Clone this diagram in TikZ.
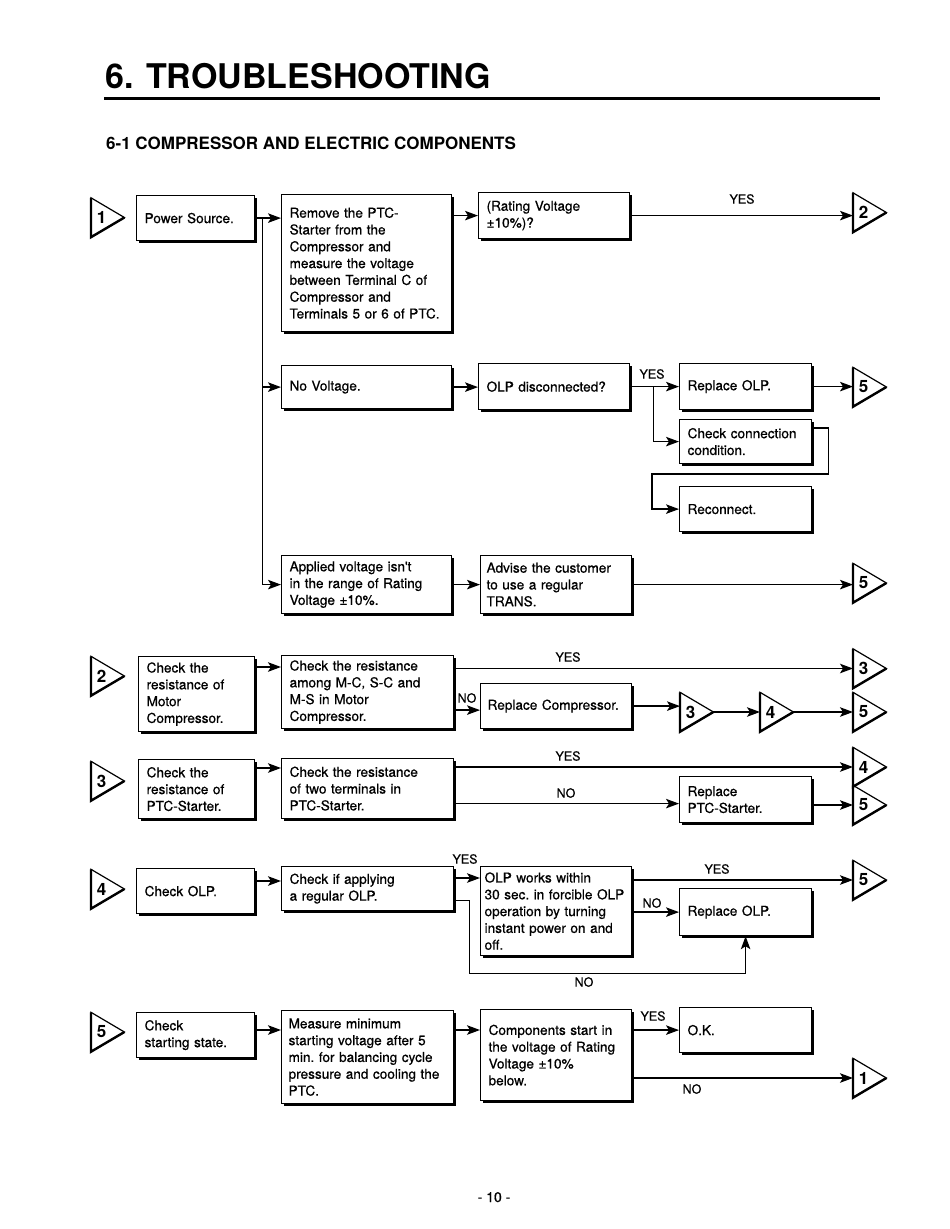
\documentclass[tikz,border=0pt]{standalone}
\usepackage{fontspec}
\setmainfont{TeX Gyre Heros}
\newfontfamily\boxfont[FakeBold=0.7]{TeX Gyre Heros}
\usetikzlibrary{arrows.meta,calc,shadows}
\tikzset{
  box/.style={draw, line width=1.2pt, fill=white,
    drop shadow={shadow xshift=2.2pt, shadow yshift=-2.2pt, opacity=1, fill=black},
    inner ysep=2pt, align=left, anchor=north west,
    font=\boxfont\fontsize{13.6}{16.8}\selectfont\frenchspacing},
  arr/.style={line width=1.4pt, -{Stealth[length=13pt,width=9.5pt,inset=3pt]}},
  lbl/.style={font=\boxfont\fontsize{12.5}{14}\selectfont, inner sep=0pt},
  trib/.style={minimum width=33pt, minimum height=39pt, inner sep=0pt, anchor=west},
  trinum/.style={font=\bfseries\fontsize{17}{17}\selectfont, inner sep=0pt},
}
\newcommand\bx[7][8]{%
  \pgfmathsetmacro\tw{#5-2*#1}%
  \node[box, inner xsep=#1pt, text width=\tw pt, minimum height=#6pt] (#2) at (#3,#4) {#7};}
\newcommand\tri[4]{%
  \node[trib] (#1) at (#2,#3) {};
  \draw[line width=1.2pt, line join=miter] (#1.north west) -- (#1.east) -- (#1.south west) -- cycle;
  \draw[line width=2.4pt] (#1.north west) -- (#1.south west) -- (#1.east);
  \node[trinum] (#1n) at ($(#1.west)+(10.5,0)$) {#4};}
\begin{document}
\begin{tikzpicture}[x=1pt,y=-1pt]
\useasboundingbox (0,0) rectangle (950,1229);
% heading
\node[anchor=base west, inner sep=0pt, font=\bfseries\fontsize{34}{36}\selectfont] (title) at (105,88) {6. TROUBLESHOOTING};
\draw[line width=3.5pt] (104,98.5) -- (880,98.5);
\node[anchor=base west, inner sep=0pt, font=\bfseries\fontsize{17}{20}\selectfont] (sub) at (106,149) {6-1 COMPRESSOR AND ELECTRIC COMPONENTS};
\node[anchor=base, inner sep=0pt, font=\boxfont\fontsize{14}{16}\selectfont] (page) at (494,1202) {- 10 -};

% ---------- chart 1 ----------
\tri{s1}{91}{217.5}{1}
\bx{ps}{136}{195}{118}{45}{Power Source.}
\bx{rm}{281}{194}{170}{137}{Remove the PTC-\\Starter from the\\Compressor and\\measure the voltage\\between Terminal C of\\Compressor and\\Terminals 5 or 6 of PTC.}
\bx{rv}{478}{192}{151}{46}{(Rating Voltage\\±10\%)?}
\tri{e2}{853}{212.5}{2}
\bx{nv}{281}{365}{170}{43}{No Voltage.}
\bx{od}{478}{363}{151}{46}{OLP disconnected?}
\bx{roa}{679}{363}{132}{46}{Replace OLP.}
\tri{e5a}{853}{387}{5}
\bx{cc}{679}{419}{132}{44}{Check connection\\condition.}
\bx{rc}{679}{486}{132}{45}{Reconnect.}
\bx{av}{281}{555}{170}{58}{Applied voltage isn't\\in the range of Rating\\Voltage ±10\%.}
\bx[6]{ad}{480}{555}{151}{58}{Advise the customer\\to use a regular\\TRANS.}
\tri{e5b}{853}{583}{5}

\draw[arr] (ps.east) -- (ps.east -| rm.west);
\coordinate (trunk) at ($(ps.east)+(7,0)$);
\draw[arr] (trunk) |- (nv.west);
\draw[arr] (trunk) |- (av.west);
\draw[arr] (rm.east |- rv.west) -- (rv.west);
\draw[arr] (rv.east) -- (rv.east -| e2.west);
\node[lbl] (y1) at (742,199) {YES};
\draw[arr] (nv.east) -- (nv.east -| od.west);
\coordinate (j1) at ($(od.east)+(23,0)$);
\draw[arr] (od.east) -- (od.east -| roa.west);
\draw[arr] (j1) |- (cc.west);
\node[lbl] (y2) at (652,374) {YES};
\draw[arr] (roa.east) -- (roa.east -| e5a.west);
\draw[arr] ($(cc.north east)+(0,9)$) -- ++(16,0) -- ++(0,46) -| ($(rc.west)+(-27,0)$) -- (rc.west);
\draw[arr] (av.east) -- (av.east -| ad.west);
\draw[arr] (ad.east) -- (ad.east -| e5b.west);

% ---------- chart 2 ----------
\tri{s2}{91}{676}{2}
\bx{ma}{138}{656}{116}{75}{Check the\\resistance of\\Motor\\Compressor.}
\bx{mb}{281}{655}{172}{73}{Check the resistance\\among M-C, S-C and\\M-S in Motor\\Compressor.}
\bx[7]{mc}{480}{683}{151}{45}{Replace Compressor.}
\tri{e3a}{853}{668.5}{3}
\tri{e3b}{680}{712}{3}
\tri{e4b}{760}{712}{4}
\tri{e5c}{853}{712}{5}
\coordinate (c2) at ($(ma.north east)+(0,11)$);
\draw[arr] (c2) -- (c2 -| mb.west);
\draw[arr] (mb.east |- e3a.west) -- (e3a.west);
\node[lbl] (y3) at (568,657) {YES};
\coordinate (c2n) at ($(mc.west)+(0,4)$);
\draw[arr] (mb.east |- c2n) -- (c2n);
\node[lbl] (n3) at (467,698) {NO};
\draw[arr] (mc.east) -- (mc.east -| e3b.west);
\draw[arr] (e3b.east) -- (e4b.west);
\draw[arr] (e4b.east) -- (e5c.west);

% ---------- chart 3 ----------
\tri{s3}{91}{781}{3}
\bx{pa}{138}{759}{116}{59}{Check the\\resistance of\\PTC-Starter.}
\bx{pb}{281}{758}{172}{60}{Check the resistance\\of two terminals in\\PTC-Starter.}
\bx{pc}{679}{776}{132}{46}{Replace\\PTC-Starter.}
\tri{e4c}{853}{767}{4}
\tri{e5d}{853}{805}{5}
\coordinate (c3) at ($(pa.north east)+(0,9)$);
\draw[arr] (c3) -- (c3 -| pb.west);
\draw[arr] (pb.east |- e4c.west) -- (e4c.west);
\node[lbl] (y4) at (568,756) {YES};
\coordinate (c3n) at ($(pc.west)+(0,4)$);
\draw[arr] (pb.east |- c3n) -- (c3n);
\node[lbl] (n4) at (566,793) {NO};
\draw[arr] (pc.east |- e5d.west) -- (e5d.west);

% ---------- chart 4 ----------
\tri{s4}{91}{889}{4}
\bx{oa}{136}{868}{118}{45}{Check OLP.}
\bx{ob}{281}{866}{172}{44}{Check if applying\\a regular OLP.}
\bx[4]{oc}{480}{866}{151}{89}{OLP works within\\30 sec. in forcible OLP\\operation by turning\\instant power on and\\off.}
\bx{od2}{679}{888}{132}{47}{Replace OLP.}
\tri{e5e}{853}{880}{5}
\coordinate (c4) at ($(oa.north east)+(0,13)$);
\draw[arr] (c4) -- (c4 -| ob.west);
\coordinate (c5) at ($(ob.north east)+(0,12)$);
\draw[arr] (c5) -- (c5 -| oc.west);
\node[lbl] (y5) at (465,859) {YES};
\draw[arr] ($(ob.south east)+(0,-11)$) -- ++(15,0) |- ($(od2.south)+(0,37)$) -- (od2.south);
\node[lbl] (n5) at (584,982) {NO};
\draw[arr] (oc.east |- e5e.west) -- (e5e.west);
\node[lbl] (y6) at (717,869) {YES};
\draw[arr] (oc.east |- od2.west) -- (od2.west);
\node[lbl] (n6) at (652,903) {NO};

% ---------- chart 5 ----------
\tri{s5}{91}{1032}{5}
\bx{sa}{136}{1012}{118}{45}{Check\\starting state.}
\bx[7]{sb}{281}{1010}{172}{93}{Measure minimum\\starting voltage after 5\\min. for balancing cycle\\pressure and cooling the\\PTC.}
\bx{sc}{480}{1009}{151}{91}{Components start in\\the voltage of Rating\\Voltage ±10\%\\below.}
\bx{sd}{679}{1007}{132}{45}{O.K.}
\tri{e1}{853}{1078}{1}
\coordinate (c6) at ($(sa.north east)+(0,18)$);
\draw[arr] (c6) -- (c6 -| sb.west);
\coordinate (c7) at ($(sb.north east)+(0,20)$);
\draw[arr] (c7) -- (c7 -| sc.west);
\draw[arr] (sc.east |- sd.west) -- (sd.west);
\node[lbl] (y7) at (653,1016) {YES};
\draw[arr] (sc.east |- e1.west) -- (e1.west);
\node[lbl] (n7) at (692,1089) {NO};
\end{tikzpicture}
\end{document}
